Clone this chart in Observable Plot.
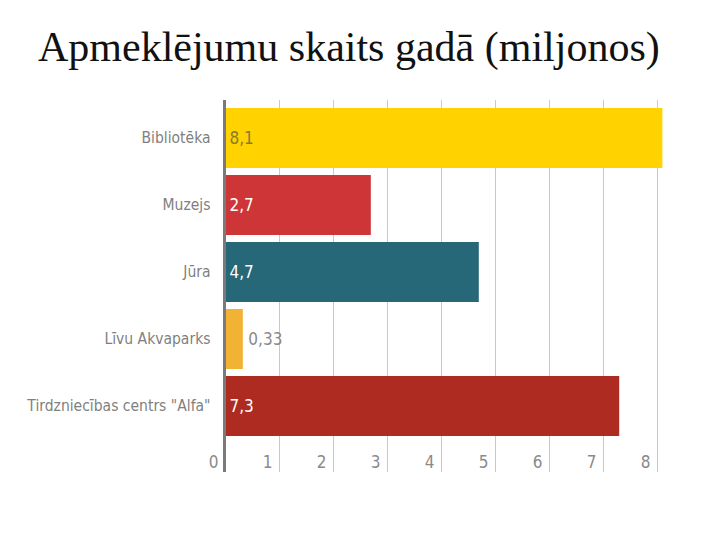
<!DOCTYPE html>
<html>
<head>
<meta charset="utf-8">
<script src="https://cdn.jsdelivr.net/npm/d3@7"></script>
<script src="https://cdn.jsdelivr.net/npm/@observablehq/plot@0.6"></script>
<style>
  body { margin: 0; background: #fff; width: 720px; height: 540px; overflow: hidden; }
  #title { height: 90px; box-sizing: border-box; padding: 23px 0 0 38px; font-family: "Liberation Serif", "DejaVu Serif", serif; font-size: 42px; color: #111; white-space: nowrap; line-height: 48px; }
</style>
</head>
<body>
<div id="title">Apmeklējumu skaits gadā (miljonos)</div>
<div id="chart"></div>
<script>
const categories = ["Bibliotēka", "Muzejs", "Jūra", "Līvu Akvaparks", "Tirdzniecības centrs \"Alfa\""];
const values = [8.1, 2.7, 4.7, 0.33, 7.3];
const barColors = ["#FFD200", "#CD3536", "#276878", "#F2B233", "#AE2B22"];
const valueColors = ["#8a7a2c", "#ffffff", "#ffffff", "#8a8a8a", "#ffffff"];
const xTicks = [0, 1, 2, 3, 4, 5, 6, 7, 8];

const data = categories.map((c, i) => ({
  cat: c,
  value: values[i],
  color: barColors[i],
  labelColor: valueColors[i],
  label: String(values[i]).replace(".", ",")
}));

const font = "'Liberation Sans Narrow', 'DejaVu Sans Condensed', 'Roboto', sans-serif";

const chart = Plot.plot({
  width: 720,
  height: 450,
  marginTop: 10,
  marginBottom: 68,
  marginLeft: 225,
  marginRight: 57.6,
  style: { fontFamily: font, fontSize: "15px", color: "#808080", background: "#fff" },
  x: { domain: [0, 8.1], axis: null, label: null },
  y: { domain: categories, range: [10.5, 353], padding: 0.11, axis: null, label: null },
  color: { type: "identity" },
  marks: [
    Plot.gridX(xTicks, { stroke: "#c9c9c9", strokeOpacity: 1, strokeWidth: 1 }),
    Plot.barX(data, { x: "value", y: "cat", fill: "color" }),
    Plot.ruleX([0], { stroke: "#7a7a7a", strokeWidth: 3, dx: -1 }),
    Plot.axisY({ tickSize: 0, tickPadding: 15, fill: "#7f7f7f", fontSize: 15.5, label: null }),
    Plot.axisX(xTicks, { anchor: "bottom", tickSize: 0, textAnchor: "end", dx: -7, dy: -26, fill: "#8a8a8a", fontSize: 17, label: null }),
    Plot.text(data, { filter: d => d.value >= 1, x: 0, y: "cat", text: "label", fill: "labelColor", textAnchor: "start", dx: 4, fontSize: 17 }),
    Plot.text(data, { filter: d => d.value < 1, x: "value", y: "cat", text: "label", fill: "labelColor", textAnchor: "start", dx: 5, fontSize: 17 })
  ]
});
document.getElementById("chart").appendChild(chart);
</script>
</body>
</html>
